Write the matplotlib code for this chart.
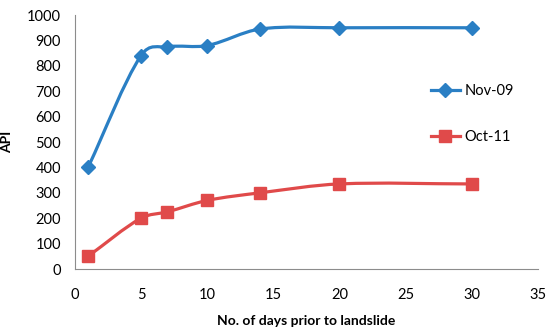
import matplotlib
matplotlib.use("Agg")
import matplotlib.pyplot as plt
from matplotlib.path import Path
from matplotlib.patches import PathPatch

plt.rcParams['font.family'] = ['Lato', 'DejaVu Sans']

days = [1, 5, 7, 10, 14, 20, 30]
nov09 = [400, 840, 875, 880, 945, 950, 950]
oct11 = [50, 200, 225, 270, 300, 335, 335]

blue = '#2a7fc4'
red = '#e04a4a'


def smooth_path(xs, ys):
    # smoothed line through the points, cubic bezier segments
    n = len(xs)
    slopes = []
    for i in range(n):
        a = max(i - 1, 0)
        b = min(i + 1, n - 1)
        slopes.append((ys[b] - ys[a]) / (xs[b] - xs[a]))
    verts = [(xs[0], ys[0])]
    codes = [Path.MOVETO]
    for i in range(n - 1):
        h = (xs[i + 1] - xs[i]) / 3
        verts += [(xs[i] + h, ys[i] + h * slopes[i]),
                  (xs[i + 1] - h, ys[i + 1] - h * slopes[i + 1]),
                  (xs[i + 1], ys[i + 1])]
        codes += [Path.CURVE4] * 3
    return Path(verts, codes)


fig = plt.figure(figsize=(5.5, 3.35), dpi=100)
ax = fig.add_axes([0.136, 0.197, 0.842, 0.758])

for ys, col, mk, ms, lab in [(nov09, blue, 'D', 7, 'Nov-09'), (oct11, red, 's', 8, 'Oct-11')]:
    ax.add_patch(PathPatch(smooth_path(days, ys), facecolor='none', edgecolor=col, lw=2.3))
    ax.plot(days, ys, linestyle='none', marker=mk, ms=ms, color=col)
    ax.plot([], [], color=col, lw=2.3, marker=mk, ms=ms, label=lab)

ax.set_xlim(0, 35)
ax.set_ylim(0, 1000)
ax.set_xticks(range(0, 36, 5))
ax.set_yticks(range(0, 1001, 100))
ax.tick_params(length=0, labelsize=10.5)
ax.tick_params(axis='x', pad=14)
ax.tick_params(axis='y', pad=10)
for s in ['top', 'right']:
    ax.spines[s].set_visible(False)
for s in ['left', 'bottom']:
    ax.spines[s].set_color('#8c8c8c')

ax.set_xlabel('No. of days prior to landslide', fontsize=10, fontweight='bold', labelpad=9)
ax.set_ylabel('API', fontsize=10, fontweight='bold', labelpad=10)

ax.legend(loc='upper left', bbox_to_anchor=(0.74, 0.78), frameon=False,
          labelspacing=2.2, handlelength=2.0, handletextpad=0.3, fontsize=10.5)

fig.savefig('out.png', dpi=100)
